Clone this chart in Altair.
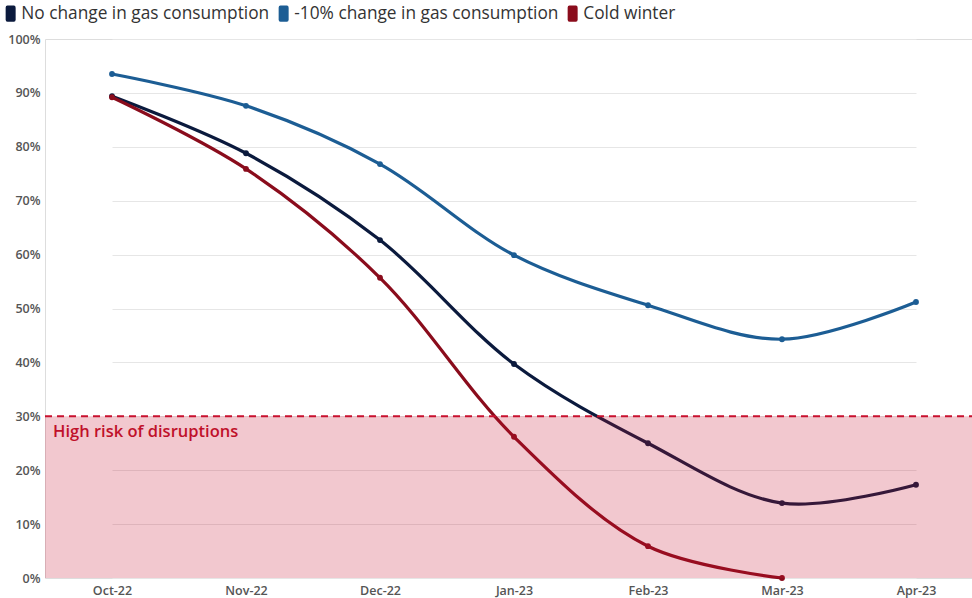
import altair as alt
import pandas as pd

months = ["Oct-22", "Nov-22", "Dec-22", "Jan-23", "Feb-23", "Mar-23", "Apr-23"]
series_names = [
    "No change in gas consumption",
    "-10% change in gas consumption",
    "Cold winter",
]
no_change = [89.4, 78.8, 62.7, 39.7, 25.0, 13.9, 17.3]
minus_ten = [93.5, 87.6, 76.8, 59.9, 50.6, 44.3, 51.2]
cold_winter = [89.2, 75.9, 55.7, 26.2, 5.9, 0.0]
series_colors = ["#0b1a3d", "#1c5d94", "#8a0c1c"]

risk_threshold = 30
risk_label = "High risk of disruptions"

rows = []
for name, vals in zip(series_names, [no_change, minus_ten, cold_winter]):
    for m, v in zip(months, vals):
        rows.append({"month": m, "series": name, "value": v})
df = pd.DataFrame(rows)

W, H = 927, 539
FONT = "Open Sans"

x_enc = alt.X(
    "month:O",
    sort=months,
    scale=alt.Scale(type="point", range=[67, 871], padding=0),
    axis=alt.Axis(
        title=None, labelAngle=0, domain=False, ticks=False, grid=False,
        labelFont=FONT, labelFontSize=12.5, labelFontWeight=600,
        labelColor="#555555", labelPadding=6,
    ),
)
y_enc = alt.Y(
    "value:Q",
    scale=alt.Scale(domain=[0, 100], nice=False),
    axis=alt.Axis(
        title=None, values=list(range(0, 101, 10)), domain=False, ticks=False,
        labelExpr="datum.value + '%'", gridColor="#e6e6e6",
        labelFont=FONT, labelFontSize=12.5, labelFontWeight=600,
        labelColor="#555555", labelPadding=5,
    ),
)

rounded = ("M-0.4,-1 L0.4,-1 Q0.62,-1 0.62,-0.75 L0.62,0.75 Q0.62,1 0.4,1 "
           "L-0.4,1 Q-0.62,1 -0.62,0.75 L-0.62,-0.75 Q-0.62,-1 -0.4,-1 Z")

color_enc = alt.Color(
    "series:N",
    sort=series_names,
    scale=alt.Scale(domain=series_names, range=series_colors),
    legend=alt.Legend(
        title=None, orient="none", direction="horizontal",
        legendX=-43, legendY=-34,
        symbolType=rounded, symbolSize=260, symbolStrokeWidth=0,
        symbolOpacity=1, labelFont=FONT, labelFontSize=17.3,
        labelColor="#333333", columnPadding=5, labelOffset=2,
        labelLimit=0,
    ),
)

base = alt.Chart(df)

lines = base.mark_line(interpolate="catmull-rom", strokeWidth=3.2).encode(
    x=x_enc, y=y_enc, color=color_enc
)
points = base.mark_circle(size=34, opacity=1).encode(
    x=x_enc, y=y_enc,
    color=alt.Color("series:N", scale=alt.Scale(domain=series_names, range=series_colors), legend=None),
)

zone_df = pd.DataFrame({"lo": [0], "hi": [risk_threshold]})
zone = alt.Chart(zone_df).mark_rect(color="#c8102e", opacity=0.23).encode(
    y=alt.Y("lo:Q", scale=alt.Scale(domain=[0, 100], nice=False)),
    y2="hi:Q",
    x=alt.value(0),
    x2=alt.value(W),
)
threshold = alt.Chart(zone_df).mark_rule(
    color="#c8102e", strokeWidth=2, strokeDash=[7, 5]
).encode(
    y=alt.Y("hi:Q", scale=alt.Scale(domain=[0, 100], nice=False)),
    x=alt.value(0),
    x2=alt.value(W),
)
label = alt.Chart(pd.DataFrame({"v": [risk_threshold], "t": [risk_label]})).mark_text(
    align="left", baseline="middle", dx=0, dy=16, font=FONT, fontSize=16.5,
    fontWeight=600, color="#c0102a",
).encode(
    y=alt.Y("v:Q", scale=alt.Scale(domain=[0, 100], nice=False)),
    x=alt.value(8),
    text="t:N",
)

chart = (
    alt.layer(lines, points, zone, threshold, label)
    .properties(
        width=W, height=H,
        padding={"left": 45, "top": 39, "right": 0, "bottom": 20},
        autosize=alt.AutoSizeParams(type="none"),
    )
    .configure_view(stroke=None)
    .configure(background="white")
)

chart.save("out.html", embed_options={"renderer": "svg", "actions": False})
